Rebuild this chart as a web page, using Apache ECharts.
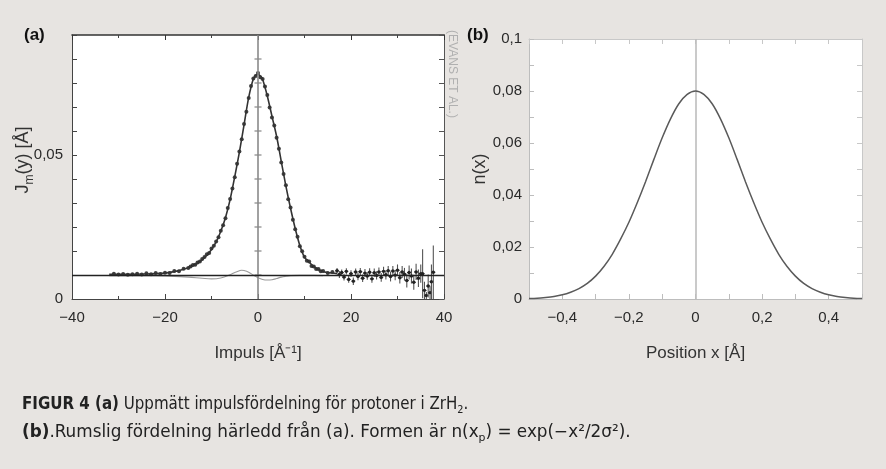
<!DOCTYPE html>
<html><head><meta charset="utf-8">
<script src="https://cdn.jsdelivr.net/npm/echarts/dist/echarts.min.js"></script>
<style>html,body{margin:0;padding:0;background:#e7e4e1}#c{width:886px;height:469px}</style>
</head><body><div id="c"></div><script>
// ---------- Panel (a): measured momentum distribution ----------
const fitX = [-32,-28,-24,-22,-20,-18,-16,-14,-13,-12,-11,-10,-9,-8,-7,-6,-5,-4,-3,-2,-1,-0.5,0,0.5,1,2,3,4,5,6,7,8,9,10,11,12,13,14,15,16,17];
const fitY = [.0086,.0086,.0087,.0088,.0090,.0095,.0103,.0115,.0125,.0137,.0152,.0172,.0198,.0235,.0282,.0345,.0425,.0510,.0605,.0700,.0765,.0776,.0780,.0774,.0762,.0705,.0635,.0565,.0478,.0392,.0315,.0245,.0186,.0145,.0128,.0112,.0102,.0095,.0092,.0090,.0088];

const dotX = [-31,-30,-29,-28,-27,-26,-25,-24,-23,-22,-21,-20,-19,-18,-17,-16,-15,
  -14.5,-14,-13.5,-13,-12.5,-12,-11.5,-11,-10.5,-10,-9.5,-9,-8.5,-8,-7.5,-7,-6.5,-6,-5.5,-5,-4.5,-4,-3.5,-3,-2.5,-2,-1.5,-1,-0.5,
  0,0.5,1,1.5,2,2.5,3,3.5,4,4.5,5,5.5,6,6.5,7,7.5,8,8.5,9,9.5,10,10.5,11,11.5,12,12.5,13,13.5,14,15,16];
const dotY = [.0088,.0085,.0087,.0084,.0086,.0088,.0085,.0089,.0086,.0090,.0087,.0091,.0090,.0097,.0096,.0105,.0108,
  .0113,.0118,.0119,.0127,.0130,.0139,.0146,.0155,.0160,.0175,.0185,.0200,.0214,.0237,.0256,.0280,.0316,.0347,.0384,.0423,.0470,.0512,.0555,.0608,.0650,.0698,.0740,.0766,.0774,
  .0785,.0770,.0764,.0738,.0708,.0665,.0630,.0602,.0560,.0522,.0474,.0434,.0395,.0346,.0318,.0275,.0242,.0216,.0183,.0166,.0147,.0133,.0130,.0115,.0113,.0104,.0104,.0096,.0097,.0090,.0094];

const errX = [17,17.5,18,18.5,19,19.5,20,20.5,21,21.5,22,22.5,23,23.5,24,24.5,25,25.5,26,26.5,27,27.5,28,28.5,29,29.5,30,30.5,31,31.5,32,32.5,33,33.5,34,34.5,35,35.4,35.8,36.2,36.6,37,37.3,37.7];
const errY = [.0098,.0085,.0092,.0076,.0096,.0068,.0088,.0062,.0094,.0078,.0095,.0072,.0090,.0080,.0093,.0070,.0091,.0082,.0094,.0075,.0096,.0084,.0098,.0078,.0097,.0083,.0100,.0074,.0094,.0086,.0064,.0092,.0080,.0058,.0094,.0072,.0088,.0088,.0030,.0012,.0045,.0022,.0060,.0093];
const errE = [.0010,.0012,.0010,.0012,.0011,.0012,.0012,.0013,.0012,.0013,.0013,.0013,.0014,.0013,.0014,.0014,.0015,.0014,.0015,.0015,.0016,.0016,.0017,.0017,.0018,.0018,.0020,.0020,.0021,.0022,.0024,.0024,.0026,.0026,.0028,.0030,.0032,.0085,.0030,.0012,.0040,.0022,.0060,.0093];

const resX = [-32,-22,-20,-15,-12,-10,-8,-6,-5,-4,-3.5,-3,-2,-1,0,1,2,3,4,5,6,7,9,12,14];
const resY = [.0081,.0081,.0080,.0076,.0072,.0070,.0073,.0084,.0092,.0098,.0100,.0099,.0093,.0083,.0074,.0068,.0066,.0067,.0071,.0076,.0079,.0081,.0082,.0082,.0081];

const baselineA = 0.0081;
const yStepA = 0.05 / 6;
const yMaxA = 11 * yStepA;

// ---------- Panel (b): spatial distribution ----------
const posX = [-0.5,-0.475,-0.45,-0.425,-0.4,-0.375,-0.35,-0.325,-0.3,-0.275,-0.25,-0.225,-0.2,-0.175,-0.15,-0.125,-0.1,-0.075,-0.05,-0.025,
  0,0.025,0.05,0.075,0.1,0.125,0.15,0.175,0.2,0.225,0.25,0.275,0.3,0.325,0.35,0.375,0.4,0.425,0.45,0.475,0.5];
const nY = [.0002,.0003,.0006,.0010,.0016,.0026,.0040,.0060,.0088,.0125,.0172,.0230,.0295,.0370,.0451,.0537,.0620,.0693,.0751,.0787,
  .0800,.0787,.0751,.0693,.0620,.0537,.0451,.0370,.0295,.0230,.0172,.0125,.0088,.0060,.0040,.0026,.0016,.0010,.0006,.0003,.0002];

const FONT = "'Liberation Sans', Arial, sans-serif";
const NARROW = "'Liberation Sans Narrow', 'DejaVu Sans Condensed', sans-serif";

function fmt(v) {
  const a = Number(Math.abs(v).toFixed(4));
  const s = String(a).replace('.', ',');
  return (v < -1e-9 ? '\u2212' : '') + s;
}

const chart = echarts.init(document.getElementById('c'), null, {renderer: 'canvas'});

const tickLbl = {fontSize: 15, color: '#2a2a2a', fontFamily: FONT};
function frameAxis(extra, color, width) {
  return Object.assign({
    type: 'value',
    axisLine: {show: true, onZero: false, lineStyle: {color: color, width: width || 1}},
    axisTick: {show: true, inside: true, length: 5, lineStyle: {color: color}},
    splitLine: {show: false},
  }, extra);
}

const centerTicks = [];
for (let k = 1; k <= 10; k++) centerTicks.push([0, k * yStepA]);

const option = {
  backgroundColor: '#e7e4e1',
  animation: false,
  grid: [
    {left: 72, top: 35, width: 372, height: 264, backgroundColor: '#fff', show: true, borderWidth: 0},
    {left: 529, top: 39, width: 333, height: 260, backgroundColor: '#fff', show: true, borderWidth: 0}
  ],
  xAxis: [
    frameAxis({gridIndex: 0, position: 'bottom', min: -40, max: 40, interval: 20,
      minorTick: {show: true, splitNumber: 2, length: 3, lineStyle: {color: '#444'}},
      axisLabel: Object.assign({margin: 11, formatter: v => fmt(v)}, tickLbl),
      name: 'Impuls [Å\u207B\u00B9]', nameLocation: 'middle', nameGap: 46,
      nameTextStyle: {fontSize: 17, color: '#333', fontFamily: FONT}}, '#444'),
    frameAxis({gridIndex: 0, position: 'top', min: -40, max: 40, interval: 20,
      minorTick: {show: true, splitNumber: 2, length: 3, lineStyle: {color: '#444'}},
      axisLabel: {show: false}}, '#333', 1.6),
    frameAxis({gridIndex: 1, position: 'bottom', min: -0.5, max: 0.5, interval: 0.1,
      axisLabel: Object.assign({margin: 11, formatter: v => (Math.abs(Math.round(v * 10)) % 2 === 0 && Math.abs(v) < 0.45) ? fmt(v) : ''}, tickLbl),
      name: 'Position x [Å]', nameLocation: 'middle', nameGap: 46,
      nameTextStyle: {fontSize: 17, color: '#333', fontFamily: FONT}}, '#bdbdbd'),
    frameAxis({gridIndex: 1, position: 'top', min: -0.5, max: 0.5, interval: 0.1, axisLabel: {show: false}}, '#c8c8c8')
  ],
  yAxis: [
    frameAxis({gridIndex: 0, position: 'left', min: 0, max: yMaxA, interval: yStepA,
      axisLabel: Object.assign({margin: 9, formatter: v => (Math.abs(v) < 1e-9 || Math.abs(v - 0.05) < 1e-6) ? fmt(v) : ''}, tickLbl)}, '#444'),
    frameAxis({gridIndex: 0, position: 'right', min: 0, max: yMaxA, interval: yStepA, axisLabel: {show: false}}, '#555'),
    frameAxis({gridIndex: 1, position: 'left', min: 0, max: 0.1, interval: 0.01,
      axisLabel: Object.assign({margin: 7, formatter: v => (Math.round(v * 100) % 2 === 0) ? fmt(v) : ''}, tickLbl),
      name: 'n(x)', nameLocation: 'middle', nameGap: 40,
      nameTextStyle: {fontSize: 18, color: '#333', fontFamily: FONT}}, '#bdbdbd'),
    frameAxis({gridIndex: 1, position: 'right', min: 0, max: 0.1, interval: 0.01, axisLabel: {show: false}}, '#c8c8c8')
  ],
  series: [
    {type: 'scatter', xAxisIndex: 0, yAxisIndex: 0, data: centerTicks, symbol: 'rect', symbolSize: [7, 1.2],
      itemStyle: {color: '#666'}, silent: true},
    {type: 'line', xAxisIndex: 0, yAxisIndex: 0, data: resX.map((x, i) => [x, resY[i]]), smooth: 0.4,
      showSymbol: false, lineStyle: {color: '#9a9a9a', width: 1.1}, silent: true},
    {type: 'line', xAxisIndex: 0, yAxisIndex: 0, data: fitX.map((x, i) => [x, fitY[i]]), smooth: 0.3,
      showSymbol: false, lineStyle: {color: '#333', width: 1.6}, silent: true,
      markLine: {silent: true, symbol: 'none', precision: 6, label: {show: false},
        data: [{xAxis: 0, lineStyle: {color: '#8a8a8a', width: 1.6, type: 'solid'}},
               {yAxis: baselineA, lineStyle: {color: '#222', width: 1.3, type: 'solid'}}]}},
    {type: 'scatter', xAxisIndex: 0, yAxisIndex: 0, data: dotX.map((x, i) => [x, dotY[i]]), symbolSize: 4,
      itemStyle: {color: '#111'}, silent: true},
    {type: 'custom', xAxisIndex: 0, yAxisIndex: 0, clip: true, silent: true,
      data: errX.map((x, i) => [x, errY[i], errE[i]]),
      encode: {x: 0, y: 1},
      renderItem: function (params, api) {
        const x = api.value(0), y = api.value(1), e = api.value(2);
        const p = api.coord([x, y]);
        const t = api.coord([x, y + e]);
        const b = api.coord([x, Math.max(0, y - e)]);
        return {type: 'group', children: [
          {type: 'line', shape: {x1: p[0], y1: t[1], x2: p[0], y2: b[1]}, style: {stroke: '#555', lineWidth: 1.1}},
          {type: 'line', shape: {x1: p[0] - 2, y1: p[1], x2: p[0] + 2, y2: p[1]}, style: {stroke: '#333', lineWidth: 1}},
          {type: 'circle', shape: {cx: p[0], cy: p[1], r: 1.7}, style: {fill: '#222'}}
        ]};
      }},
    {type: 'line', xAxisIndex: 2, yAxisIndex: 2, data: posX.map((x, i) => [x, nY[i]]), smooth: 0.3,
      showSymbol: false, lineStyle: {color: '#5a5a5a', width: 1.5}, silent: true, z: 3,
      markLine: {silent: true, symbol: 'none', precision: 6, label: {show: false}, z: 2,
        data: [{xAxis: 0, lineStyle: {color: '#bdbdbd', width: 1.6, type: 'solid'}}]}}
  ],
  graphic: [
    {type: 'text', x: 24, y: 35, style: {text: '(a)', font: 'bold 17px ' + FONT, fill: '#111', verticalAlign: 'middle'}},
    {type: 'text', x: 467, y: 35, style: {text: '(b)', font: 'bold 17px ' + FONT, fill: '#111', verticalAlign: 'middle'}},
    {type: 'text', x: 23, y: 160, rotation: Math.PI / 2,
      style: {text: 'J{s|m}(y) [Å]', font: '18px ' + FONT, fill: '#333', align: 'center', verticalAlign: 'middle',
        rich: {s: {fontSize: 12, fontFamily: FONT, fill: '#333', verticalAlign: 'bottom', lineHeight: 12}}, lineHeight: 26}},
    {type: 'text', x: 452, y: 74, rotation: -Math.PI / 2,
      style: {text: '(EVANS ET AL.)', font: '12px ' + FONT, fill: '#b0b0b0', align: 'center', verticalAlign: 'middle'}},
    {type: 'text', x: 22, y: 405, scaleX: 0.985,
      style: {text: '{b|FIGUR 4 (a)} Uppmätt impulsfördelning för protoner i ZrH{s|2}.',
        font: '17px ' + NARROW, fill: '#222', verticalAlign: 'middle', lineHeight: 22,
        rich: {b: {fontWeight: 'bold', fontSize: 17, fontFamily: NARROW, lineHeight: 22},
               s: {fontSize: 11, fontFamily: NARROW, verticalAlign: 'bottom', lineHeight: 11}}}},
    {type: 'text', x: 22, y: 433, scaleX: 1.1,
      style: {text: '{b|(b)}.Rumslig fördelning härledd från (a). Formen är n(x{s|p}) = exp(\u2212x\u00B2/2\u03C3\u00B2).',
        font: '17px ' + NARROW, fill: '#222', verticalAlign: 'middle', lineHeight: 22,
        rich: {b: {fontWeight: 'bold', fontSize: 17, fontFamily: NARROW, lineHeight: 22},
               s: {fontSize: 11, fontFamily: NARROW, verticalAlign: 'bottom', lineHeight: 11}}}}
  ]
};
chart.setOption(option);
</script></body></html>
